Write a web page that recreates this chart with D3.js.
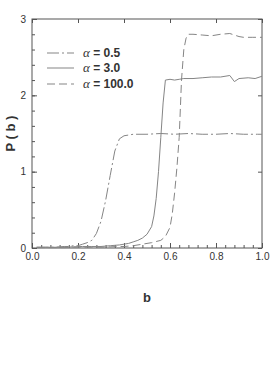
<!DOCTYPE html>
<html>
<head>
<meta charset="utf-8">
<script src="https://cdn.jsdelivr.net/npm/d3@7"></script>
<style>
  body { margin: 0; background: #fff; }
  svg { display: block; font-family: "Liberation Sans", Arial, sans-serif; }
</style>
</head>
<body>
<svg id="chart" width="273" height="392"></svg>
<script>
//Data
const bA = [0.02, 0.04, 0.06, 0.08, 0.10, 0.12, 0.14, 0.16, 0.18, 0.20, 0.22, 0.24, 0.26, 0.28, 0.30, 0.32, 0.34, 0.36, 0.38, 0.40, 0.42, 0.44, 0.50, 0.56, 0.62, 0.68, 0.74, 0.80, 0.86, 0.92, 0.98, 1.00];
const pA = [0.01, 0.01, 0.01, 0.01, 0.01, 0.015, 0.02, 0.02, 0.03, 0.03, 0.05, 0.07, 0.10, 0.19, 0.35, 0.62, 0.95, 1.27, 1.43, 1.47, 1.48, 1.49, 1.49, 1.50, 1.49, 1.50, 1.49, 1.49, 1.50, 1.49, 1.49, 1.49];

const bB = [0.02, 0.06, 0.10, 0.14, 0.18, 0.22, 0.26, 0.30, 0.34, 0.38, 0.42, 0.44, 0.46, 0.48, 0.50, 0.52, 0.53, 0.54, 0.55, 0.56, 0.57, 0.58, 0.60, 0.62, 0.64, 0.66, 0.70, 0.74, 0.78, 0.82, 0.86, 0.88, 0.90, 0.94, 0.97, 1.00];
const pB = [0.01, 0.01, 0.01, 0.01, 0.015, 0.02, 0.02, 0.02, 0.03, 0.04, 0.06, 0.08, 0.10, 0.13, 0.18, 0.28, 0.42, 0.65, 1.00, 1.45, 1.90, 2.20, 2.21, 2.20, 2.21, 2.22, 2.22, 2.23, 2.24, 2.24, 2.26, 2.18, 2.22, 2.23, 2.22, 2.25];

const bC = [0.02, 0.06, 0.10, 0.14, 0.18, 0.22, 0.26, 0.30, 0.34, 0.38, 0.40, 0.44, 0.48, 0.52, 0.56, 0.58, 0.60, 0.61, 0.62, 0.63, 0.64, 0.65, 0.66, 0.67, 0.68, 0.70, 0.74, 0.78, 0.82, 0.86, 0.88, 0.90, 0.92, 0.96, 1.00];
const pC = [0.005, 0.005, 0.005, 0.005, 0.01, 0.01, 0.01, 0.01, 0.015, 0.02, 0.02, 0.03, 0.05, 0.07, 0.10, 0.15, 0.27, 0.45, 0.72, 1.05, 1.45, 2.20, 2.60, 2.75, 2.80, 2.80, 2.79, 2.78, 2.80, 2.81, 2.79, 2.77, 2.76, 2.76, 2.76];

const seriesNames = ["0.5", "3.0", "100.0"];
const xTicks = [0, 0.2, 0.4, 0.6, 0.8, 1.0];
const yTicks = [0, 1, 2, 3];

document.addEventListener("DOMContentLoaded", () => {
  const svg = d3.select("#chart");
  //plot box
  const left = 32, right = 262, top = 19, bottom = 248;

  const xScale = d3.scaleLinear().domain([0, 1]).range([left, right]);
  const yScale = d3.scaleLinear().domain([0, 3]).range([bottom, top]);

  const ink = "#333";
  const lineColor = "#858585";

  //frame
  svg.append("rect")
    .attr("x", left).attr("y", top)
    .attr("width", right - left).attr("height", bottom - top)
    .attr("fill", "none").attr("stroke", "#555").attr("stroke-width", 1);

  //bottom axis with minor ticks (inward)
  const xMinor = d3.range(0, 1.0001, 0.04);
  svg.append("g")
    .attr("transform", `translate(0, ${bottom})`)
    .call(d3.axisTop(xScale).tickValues(xMinor).tickSize(3).tickFormat(""))
    .call((g) => g.select(".domain").remove())
    .call((g) => g.selectAll("line").attr("stroke", "#555"));
  const xAxis = svg.append("g")
    .attr("transform", `translate(0, ${bottom})`)
    .call(d3.axisBottom(xScale).tickValues(xTicks).tickSize(-5).tickPadding(5).tickFormat(d3.format(".1f")));
  xAxis.select(".domain").remove();
  xAxis.selectAll("line").attr("stroke", "#555");
  xAxis.selectAll("text").attr("font-size", 10).attr("fill", ink).attr("font-family", "Liberation Sans, Arial, sans-serif");

  //top axis, majors only
  svg.append("g")
    .attr("transform", `translate(0, ${top})`)
    .call(d3.axisBottom(xScale).tickValues(xTicks).tickSize(4).tickFormat(""))
    .call((g) => g.select(".domain").remove())
    .call((g) => g.selectAll("line").attr("stroke", "#555"));

  //left axis with minor ticks
  const yMinor = d3.range(0, 3.0001, 0.2);
  svg.append("g")
    .attr("transform", `translate(${left}, 0)`)
    .call(d3.axisRight(yScale).tickValues(yMinor).tickSize(3).tickFormat(""))
    .call((g) => g.select(".domain").remove())
    .call((g) => g.selectAll("line").attr("stroke", "#555"));
  const yAxis = svg.append("g")
    .attr("transform", `translate(${left}, 0)`)
    .call(d3.axisLeft(yScale).tickValues(yTicks).tickSize(-5).tickPadding(6).tickFormat(d3.format("d")));
  yAxis.select(".domain").remove();
  yAxis.selectAll("line").attr("stroke", "#555");
  yAxis.selectAll("text").attr("font-size", 10).attr("fill", ink).attr("font-family", "Liberation Sans, Arial, sans-serif");

  //right axis, majors only
  svg.append("g")
    .attr("transform", `translate(${right}, 0)`)
    .call(d3.axisLeft(yScale).tickValues(yTicks).tickSize(4).tickFormat(""))
    .call((g) => g.select(".domain").remove())
    .call((g) => g.selectAll("line").attr("stroke", "#555"));

  //axis titles
  svg.append("text")
    .attr("x", (left + right) / 2).attr("y", 302)
    .attr("text-anchor", "middle")
    .attr("font-size", 13).attr("font-weight", "bold").attr("fill", ink)
    .text("b");
  svg.append("text")
    .attr("transform", `translate(15, ${(top + bottom) / 2}) rotate(-90)`)
    .attr("text-anchor", "middle")
    .attr("font-size", 13).attr("font-weight", "bold").attr("fill", ink)
    .text("P ( b )");

  //curves
  const dashes = ["12,3,2,3", null, "8,4"];
  const series = [
    { b: bA, p: pA },
    { b: bB, p: pB },
    { b: bC, p: pC },
  ];
  const line = d3.line().x((d) => xScale(d[0])).y((d) => yScale(d[1]));
  series.forEach((s, i) => {
    const pts = s.b.map((b, j) => [b, s.p[j]]);
    svg.append("path")
      .datum(pts)
      .attr("d", line)
      .attr("fill", "none")
      .attr("stroke", lineColor)
      .attr("stroke-width", 1)
      .attr("stroke-dasharray", dashes[i]);
  });

  //legend
  const legendY = [53, 68, 84];
  seriesNames.forEach((name, i) => {
    svg.append("line")
      .attr("x1", 47).attr("x2", 74)
      .attr("y1", legendY[i]).attr("y2", legendY[i])
      .attr("stroke", lineColor).attr("stroke-width", 1)
      .attr("stroke-dasharray", dashes[i]);
    const t = svg.append("text")
      .attr("x", 83).attr("y", legendY[i] + 4)
      .attr("font-size", 12).attr("fill", ink);
    t.append("tspan")
      .attr("font-family", "Liberation Serif, Times New Roman, serif")
      .attr("font-style", "italic").attr("font-size", 13)
      .text("α");
    t.append("tspan").attr("font-weight", "bold").text(" = " + name);
  });
});
</script>
</body>
</html>
